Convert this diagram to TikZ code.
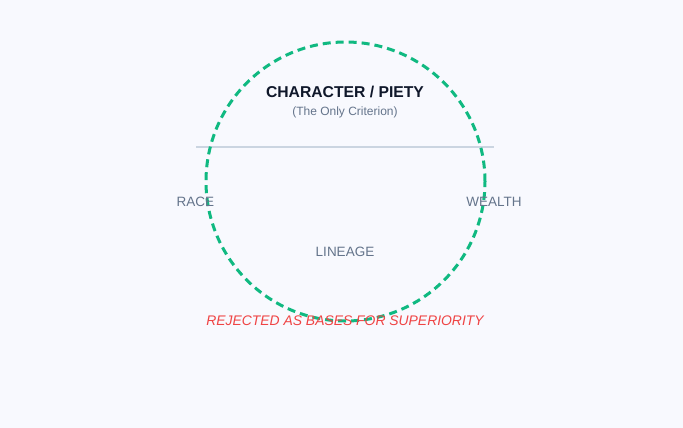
\documentclass[tikz,border=0pt]{standalone}
\usepackage{fontspec}
\setmainfont{Liberation Sans}
\definecolor{bg}{HTML}{F8F9FE}
\definecolor{ring}{HTML}{10B981}
\definecolor{divider}{HTML}{CBD5E1}
\definecolor{title}{HTML}{0F172A}
\definecolor{muted}{HTML}{64748B}
\definecolor{reject}{HTML}{EF4444}
\tikzset{
  lbl/.style={anchor=base, inner sep=0pt, text=muted, font=\fontsize{13.5}{16}\selectfont},
}
\begin{document}
\begin{tikzpicture}[x=1pt,y=-1pt]
\fill[bg] (0,0) rectangle (683,428);
\useasboundingbox (0,0) rectangle (683,428);
\coordinate (dl) at (196,147);
\coordinate (dr) at (494,147);
\draw[divider, line width=2pt] (dl) -- (dr);
\node[circle, draw=ring, line width=3pt, dash pattern=on 8pt off 5pt, minimum size=279pt, inner sep=0pt] (ring) at (345.5,181.5) {};
\node[anchor=base, inner sep=0pt, text=title, font=\bfseries\fontsize{15.7}{18}\selectfont] (char) at (345,97) {CHARACTER / PIETY};
\node[anchor=base, inner sep=0pt, text=muted, font=\fontsize{12}{14}\selectfont] (crit) at (345,115) {(The Only Criterion)};
\node[lbl] (race) at (195.5,206.5) {RACE};
\node[lbl] (wealth) at (494,206.5) {WEALTH};
\node[lbl] (lineage) at (345,256.5) {LINEAGE};
\node[anchor=base, inner sep=0pt, text=reject, font=\itshape\fontsize{13.9}{16}\selectfont] (rej) at (345,325.5) {REJECTED AS BASES FOR SUPERIORITY};
\end{tikzpicture}
\end{document}
